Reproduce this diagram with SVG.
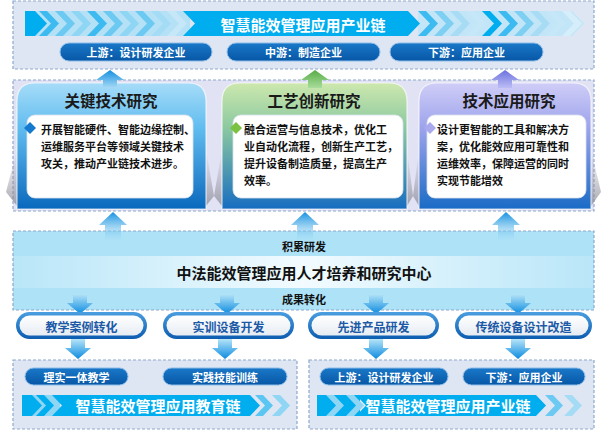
<svg xmlns="http://www.w3.org/2000/svg" width="608" height="430" viewBox="0 0 608 430">
<style>
.t{font-family:"Noto Sans CJK SC","Noto Sans",sans-serif;font-weight:700}
.frame{fill:#dfe6f3;stroke:#8ea8cc;stroke-width:1.2;stroke-dasharray:3 2}
.ctr{text-anchor:middle;dominant-baseline:central}
.body{font-size:11px;fill:#111;dominant-baseline:central}
.ttl{font-size:15.5px;fill:#1a1a1a}
.wpill{font-size:11px;fill:#fff}
.bpill{font-size:12px;fill:#1c5aa6}
.ban{font-size:15px;fill:#fff}
.wbox{fill:#fff;stroke:#d8e2ee;stroke-width:0.8}
</style>
<defs>
<linearGradient id="cB" x1="0" y1="0" x2="0" y2="1"><stop offset="0" stop-color="#a6dcf8"/><stop offset="0.35" stop-color="#62bdf0"/><stop offset="1" stop-color="#0a68bd"/></linearGradient>
<linearGradient id="cG" x1="0" y1="0" x2="0" y2="1"><stop offset="0" stop-color="#cde8ae"/><stop offset="0.35" stop-color="#8cc9a0"/><stop offset="1" stop-color="#176dc0"/></linearGradient>
<linearGradient id="cP" x1="0" y1="0" x2="0" y2="1"><stop offset="0" stop-color="#cfcdf7"/><stop offset="0.35" stop-color="#9ea4ec"/><stop offset="1" stop-color="#1a6bc6"/></linearGradient>
<linearGradient id="aB" x1="0" y1="0" x2="0" y2="1"><stop offset="0" stop-color="#1690e0"/><stop offset="1" stop-color="#a6daf6"/></linearGradient>
<linearGradient id="aG" x1="0" y1="0" x2="0" y2="1"><stop offset="0" stop-color="#56ad45"/><stop offset="1" stop-color="#a9dc9c"/></linearGradient>
<linearGradient id="aP" x1="0" y1="0" x2="0" y2="1"><stop offset="0" stop-color="#6c72de"/><stop offset="1" stop-color="#bcbdf5"/></linearGradient>
<linearGradient id="aC" x1="0" y1="0" x2="0" y2="1"><stop offset="0" stop-color="#1690e0"/><stop offset="1" stop-color="#aee2f7" stop-opacity="0.3"/></linearGradient>
<linearGradient id="aD" x1="0" y1="0" x2="0" y2="1"><stop offset="0" stop-color="#b5e4f8"/><stop offset="1" stop-color="#0c8be0"/></linearGradient>
<linearGradient id="strip" x1="0" y1="0" x2="1" y2="0"><stop offset="0" stop-color="#b9e6f8"/><stop offset="0.5" stop-color="#f2fbff"/><stop offset="1" stop-color="#b9e6f8"/></linearGradient>
<linearGradient id="pO" x1="0" y1="0" x2="0" y2="1"><stop offset="0" stop-color="#4a9ee0"/><stop offset="1" stop-color="#0c5cb0"/></linearGradient>
<linearGradient id="pI" x1="0" y1="0" x2="0" y2="1"><stop offset="0" stop-color="#ffffff"/><stop offset="1" stop-color="#e6ecf3"/></linearGradient>
<linearGradient id="dP" x1="0" y1="0" x2="0" y2="1"><stop offset="0" stop-color="#1a78c8"/><stop offset="1" stop-color="#0757a6"/></linearGradient>
<linearGradient id="sh" x1="0" y1="0" x2="0" y2="1"><stop offset="0" stop-color="#9a9aa6" stop-opacity="0"/><stop offset="1" stop-color="#8a8a96" stop-opacity="0.75"/></linearGradient>
<path id="au" d="M0,0 L14,10 L7,10 L7,18 L-7,18 L-7,10 L-14,10 Z"/>
<path id="ac" d="M0,0 L14,13 L8,13 L8,29 L-8,29 L-8,13 L-14,13 Z"/>
<path id="ad" d="M0,0 L-13,-11 L-7,-11 L-7,-20 L7,-20 L7,-11 L13,-11 Z"/>
<path id="chT" d="M0,11 L8,11 L20,23.5 L8,36 L0,36 L12,23.5 Z"/>
<path id="chB" d="M0,395 L8,395 L18,405.5 L8,416 L0,416 L10,405.5 Z"/>
</defs>

<!-- Top frame: industry chain -->
<g id="industry-chain">
<rect class="frame" x="13" y="1" width="581" height="68"/>
<rect x="25" y="11" width="165" height="25" fill="#b5e1f6"/>
<path d="M25,11 L35,11 L47,23.5 L35,36 L25,36 Z" fill="#00aeef"/>
<use href="#chT" x="39" fill="#3dbbf0"/>
<use href="#chT" x="55" fill="#6cc9f2"/>
<use href="#chT" x="71" fill="#8fd5f4"/>
<use href="#chT" x="87" fill="#3dbbf0"/>
<use href="#chT" x="103" fill="#6cc9f2"/>
<use href="#chT" x="119" fill="#8fd5f4"/>
<use href="#chT" x="135" fill="#6cc9f2"/>
<use href="#chT" x="151" fill="#a5dcf5"/>
<use href="#chT" x="167" fill="#c5e7f7"/>
<path d="M418,11 L572,11 L584,23.5 L572,36 L418,36 Z" fill="#c2e6f7"/>
<use href="#chT" x="418" fill="#3dbbf0"/>
<use href="#chT" x="434" fill="#7fcff3"/>
<use href="#chT" x="450" fill="#a8dcf5"/>
<use href="#chT" x="466" fill="#c5e7f7"/>
<use href="#chT" x="482" fill="#00aeef"/>
<use href="#chT" x="498" fill="#3dbbf0"/>
<use href="#chT" x="514" fill="#7fcff3"/>
<use href="#chT" x="530" fill="#a8dcf5"/>
<use href="#chT" x="546" fill="#c5e7f7"/>
<use href="#chT" x="562" fill="#d6eefa"/>
<path d="M183,11 L408,11 L420,23.5 L408,36 L183,36 L195,23.5 Z" fill="#00aeef"/>
<text class="t ctr ban" x="303" y="24" font-size="15.5">智慧能效管理应用产业链</text>
<rect x="60" y="43" width="152" height="18" rx="9" fill="url(#dP)" stroke="#8cbce8" stroke-width="1"/>
<text class="t ctr wpill" x="136" y="52">上游：设计研发企业</text>
<rect x="227" y="43" width="153" height="18" rx="9" fill="url(#dP)" stroke="#8cbce8" stroke-width="1"/>
<text class="t ctr wpill" x="303.5" y="52">中游：制造企业</text>
<rect x="390" y="43" width="153" height="18" rx="9" fill="url(#dP)" stroke="#8cbce8" stroke-width="1"/>
<text class="t ctr wpill" x="466.5" y="52">下游：应用企业</text>
</g>

<!-- Middle frame -->
<rect id="research-frame" class="frame" x="13" y="80" width="581" height="131" style="fill:#e2e2f5"/>

<g id="shadows">
<path d="M17,150 L17,206 L6,192 Z" fill="url(#sh)"/>
<path d="M206,150 L206,206 L214,196 Z" fill="url(#sh)"/>
<path d="M222,150 L222,206 L214,196 Z" fill="url(#sh)"/>
<path d="M407,150 L407,206 L413,196 Z" fill="url(#sh)"/>
<path d="M419,150 L419,206 L413,196 Z" fill="url(#sh)"/>
<path d="M591,150 L591,206 L601,192 Z" fill="url(#sh)"/>
</g>

<g id="card-key-tech">
<path d="M17,209 L17,101 Q17,83 35,83 L188,83 Q206,83 206,101 L206,209 Z" fill="url(#cB)" stroke="#ffffff" stroke-opacity="0.7" stroke-width="1.2"/>
<text class="t ctr ttl" x="111" y="100">关键技术研究</text>
<rect class="wbox" x="27" y="115" width="166" height="83" rx="8"/>
<path d="M30,122 L36,128 L30,134 L24,128 Z" fill="#1479cf"/>
<text class="t body" x="41" font-size="10.8"><tspan x="41" y="129">开展智能硬件、智能边缘控制、</tspan><tspan x="41" y="146">运维服务平台等领域关键技术</tspan><tspan x="41" y="163">攻关，推动产业链技术进步。</tspan></text>
</g>

<g id="card-process">
<path d="M222,209 L222,101 Q222,83 240,83 L389,83 Q407,83 407,101 L407,209 Z" fill="url(#cG)" stroke="#ffffff" stroke-opacity="0.7" stroke-width="1.2"/>
<text class="t ctr ttl" x="314" y="100">工艺创新研究</text>
<rect class="wbox" x="233" y="115" width="170" height="83" rx="8"/>
<path d="M236,122 L242,128 L236,134 L230,128 Z" fill="#7cc242"/>
<text class="t body" x="244"><tspan x="244" y="129">融合运营与信息技术，优化工</tspan><tspan x="244" y="146">业自动化流程，创新生产工艺，</tspan><tspan x="244" y="163">提升设备制造质量，提高生产</tspan><tspan x="244" y="180">效率。</tspan></text>
</g>

<g id="card-application">
<path d="M419,209 L419,101 Q419,83 437,83 L573,83 Q591,83 591,101 L591,209 Z" fill="url(#cP)" stroke="#ffffff" stroke-opacity="0.7" stroke-width="1.2"/>
<text class="t ctr ttl" x="509" y="100">技术应用研究</text>
<rect class="wbox" x="427" y="115" width="159" height="83" rx="8"/>
<path d="M430,122 L436,128 L430,134 L424,128 Z" fill="#a9a9ee"/>
<text class="t body" x="437" font-size="11.3"><tspan x="437" y="129">设计更智能的工具和解决方</tspan><tspan x="437" y="146">案，优化能效应用可靠性和</tspan><tspan x="437" y="163">运维效率，保障运营的同时</tspan><tspan x="437" y="180">实现节能增效</tspan></text>
</g>

<!-- Center band -->
<g id="center">
<rect class="frame" x="13" y="231" width="581" height="79" style="fill:#ade2f7"/>
<rect x="14" y="256" width="579" height="32" fill="url(#strip)"/>
<text class="t ctr" x="304" y="246" font-size="11" fill="#111">积累研发</text>
<text class="t ctr" x="304" y="272" font-size="15" fill="#111">中法能效管理应用人才培养和研究中心</text>
<text class="t ctr" x="304" y="299" font-size="11" fill="#111">成果转化</text>
</g>

<!-- Connectors -->
<g id="connectors">
<use href="#au" x="110" y="70" fill="url(#aB)"/>
<use href="#au" x="315" y="70" fill="url(#aG)"/>
<use href="#au" x="505" y="70" fill="url(#aP)"/>
<use href="#ac" x="113" y="212" fill="url(#aC)"/>
<use href="#ac" x="305" y="212" fill="url(#aC)"/>
<use href="#ac" x="506" y="212" fill="url(#aC)"/>
<use href="#ad" x="80" y="314" fill="url(#aD)"/>
<use href="#ad" x="227" y="314" fill="url(#aD)"/>
<use href="#ad" x="376" y="314" fill="url(#aD)"/>
<use href="#ad" x="518" y="314" fill="url(#aD)"/>
<use href="#ad" x="78" y="359" fill="url(#aD)"/>
<use href="#ad" x="225" y="359" fill="url(#aD)"/>
<use href="#ad" x="376" y="359" fill="url(#aD)"/>
<use href="#ad" x="518" y="359" fill="url(#aD)"/>
</g>

<!-- Outcome pills -->
<g id="pill-cases">
<rect x="16" y="312" width="131" height="27" rx="13.5" fill="url(#pO)"/>
<rect x="19.5" y="315.5" width="124" height="20" rx="10" fill="url(#pI)"/>
<text class="t ctr bpill" x="81.5" y="326">教学案例转化</text>
</g>
<g id="pill-training">
<rect x="163" y="312" width="131" height="27" rx="13.5" fill="url(#pO)"/>
<rect x="166.5" y="315.5" width="124" height="20" rx="10" fill="url(#pI)"/>
<text class="t ctr bpill" x="228.5" y="326">实训设备开发</text>
</g>
<g id="pill-products">
<rect x="308" y="312" width="131" height="27" rx="13.5" fill="url(#pO)"/>
<rect x="311.5" y="315.5" width="124" height="20" rx="10" fill="url(#pI)"/>
<text class="t ctr bpill" x="373.5" y="326">先进产品研发</text>
</g>
<g id="pill-retrofit">
<rect x="455" y="312" width="137" height="27" rx="13.5" fill="url(#pO)"/>
<rect x="458.5" y="315.5" width="130" height="20" rx="10" fill="url(#pI)"/>
<text class="t ctr bpill" x="523.5" y="326">传统设备设计改造</text>
</g>

<!-- Bottom left: education chain -->
<g id="education-chain">
<rect class="frame" x="13" y="360" width="284" height="69"/>
<rect x="25" y="368" width="103" height="17" rx="8.5" fill="url(#dP)" stroke="#8cbce8" stroke-width="1"/>
<text class="t ctr wpill" x="76.5" y="376.5" font-size="10.5">理实一体教学</text>
<rect x="163" y="368" width="124" height="17" rx="8.5" fill="url(#dP)" stroke="#8cbce8" stroke-width="1"/>
<text class="t ctr wpill" x="225" y="376.5" font-size="10.5">实践技能训练</text>
<path d="M22,395 L60,395 L60,416 L22,416 Z" fill="#8fd5f4"/>
<path d="M22,395 L32,395 L42,405.5 L32,416 L22,416 Z" fill="#00aeef"/>
<use href="#chB" x="36" fill="#00aeef"/>
<path d="M52,395 L250,395 L260,405.5 L250,416 L52,416 L62,405.5 Z" fill="#00aeef"/>
<use href="#chB" x="255" fill="#5cc6f2"/>
<use href="#chB" x="272" fill="#8fd5f4"/>
<text class="t ctr ban" x="158" y="405.5">智慧能效管理应用教育链</text>
</g>

<!-- Bottom right: industry chain -->
<g id="industry-chain-bottom">
<rect class="frame" x="309" y="360" width="285" height="69"/>
<rect x="320" y="368" width="128" height="17" rx="8.5" fill="url(#dP)" stroke="#8cbce8" stroke-width="1"/>
<text class="t ctr wpill" x="384" y="376.5">上游：设计研发企业</text>
<rect x="463" y="368" width="122" height="17" rx="8.5" fill="url(#dP)" stroke="#8cbce8" stroke-width="1"/>
<text class="t ctr wpill" x="524" y="376.5">下游：应用企业</text>
<path d="M317,395 L360,395 L360,416 L317,416 Z" fill="#00aeef"/>
<use href="#chB" x="326" fill="#8fd5f4"/>
<use href="#chB" x="346" fill="#8fd5f4"/>
<path d="M356,395 L536,395 L546,405.5 L536,416 L356,416 L366,405.5 Z" fill="#00aeef"/>
<use href="#chB" x="545" fill="#6cc9f2"/>
<use href="#chB" x="564" fill="#a5dcf5"/>
<text class="t ctr ban" x="448" y="405.5">智慧能效管理应用产业链</text>
</g>
</svg>
